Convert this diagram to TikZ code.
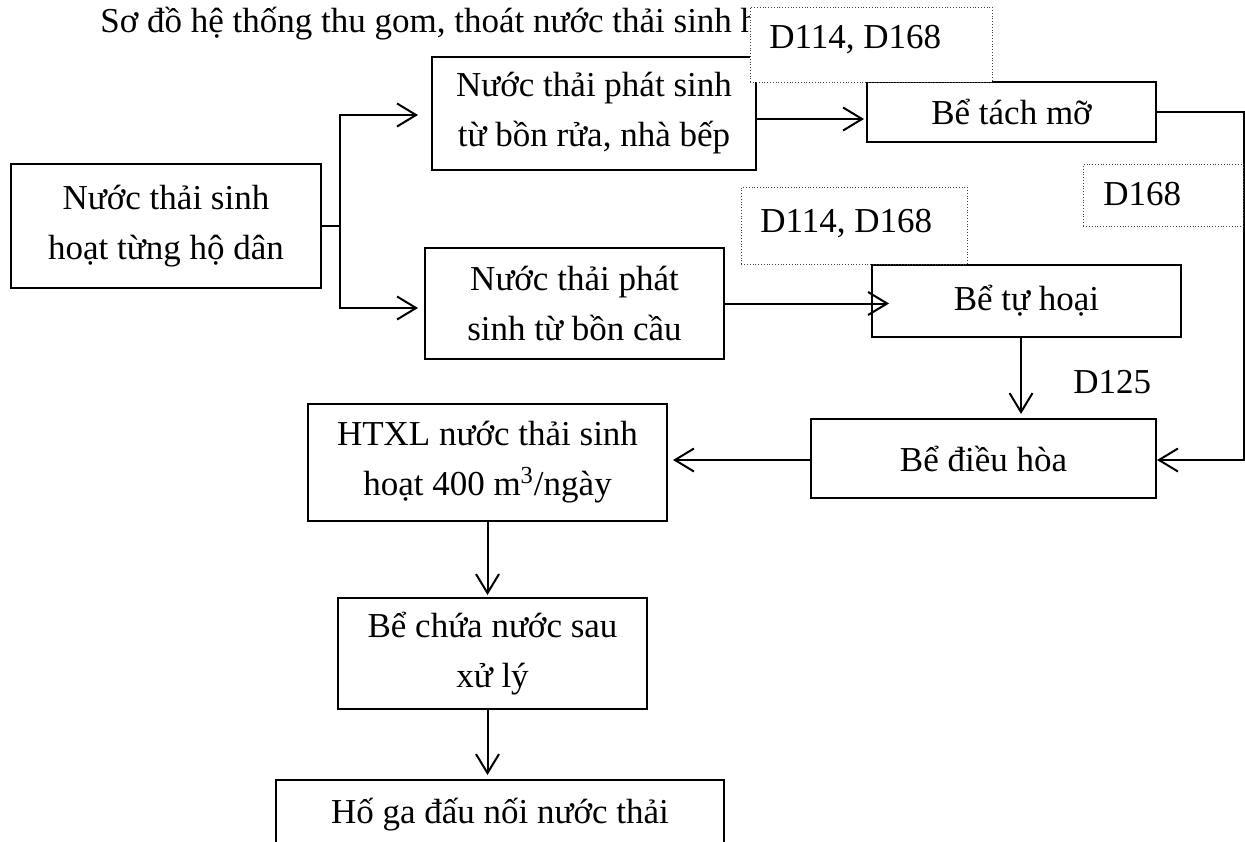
\documentclass[tikz,border=0pt]{standalone}
\usepackage{fontspec}
\setmainfont{Liberation Serif}
\usetikzlibrary{arrows.meta}
\newcommand{\bodyfont}{\fontsize{17.5}{25}\selectfont}
\tikzset{
  box/.style={draw, line width=1pt, align=center, inner sep=0pt, font=\bodyfont},
  pipetag/.style={draw=black!75, densely dotted, line width=0.4pt, fill=white, anchor=north west,
    align=flush left, inner ysep=0pt, font=\bodyfont},
  flow/.style={line width=1pt, -{Straight Barb[length=9.5pt, width=11.5pt, line width=1pt]}}
}

\begin{document}
\begin{tikzpicture}[x=0.5pt, y=-0.5pt]
                \useasboundingbox (0,0) rectangle (1245,841);

                \node[anchor=base west, inner sep=0pt, font=\bodyfont] (title) at (100,32) {Sơ đồ hệ thống thu gom, thoát nước thải sinh h};

                \node[box, minimum width=155pt, minimum height=62pt] (src) at (166,226) {Nước thải sinh\\hoạt từng hộ dân};
                \node[box, minimum width=162pt, minimum height=56.5pt] (kitchen) at (594,113.5) {Nước thải phát sinh\\từ bồn rửa, nhà bếp};
                \node[box, minimum width=144.5pt, minimum height=30pt] (grease) at (1011.5,112) {Bể tách mỡ};
                \node[box, minimum width=149.5pt, minimum height=55.5pt] (toilet) at (574.5,303.5) {Nước thải phát\\sinh từ bồn cầu};
                \node[box, minimum width=154.5pt, minimum height=36pt] (septic) at (1026.5,301) {Bể tự hoại};
                \node[box, minimum width=172.5pt, minimum height=39.5pt] (equal) at (983.5,458.5) {Bể điều hòa};
                \node[box, minimum width=179.5pt, minimum height=58.5pt] (plant) at (487.5,462.5) {HTXL nước thải sinh\\hoạt 400 m\textsuperscript{3}/ngày};
                \node[box, minimum width=154.5pt, minimum height=55.5pt] (store) at (492.5,653.5) {Bể chứa nước sau\\xử lý};
                \node[box, anchor=north, minimum width=224pt, text height=21.5pt, text depth=30pt] (sump) at (500,779) {Hố ga đấu nối nước thải};

                \coordinate (fork) at (340,226);
                \draw[line width=1pt] (src.east) -- (fork);
                \draw[flow, shorten >=6.5pt] (fork) |- ([yshift=-0.75pt]kitchen.west);
                \draw[flow, shorten >=3pt] (fork) |- ([yshift=-2.25pt]toilet.west);

                \draw[flow, shorten >=1pt] ([yshift=-2.75pt]kitchen.east) -- ([yshift=-2.75pt]kitchen.east -| grease.west);
                \draw[flow] (grease.east) -- ++(87,0) |- ([yshift=-0.75pt]equal.east);

                \draw[flow, shorten >=-9pt] (toilet.east) -- (toilet.east -| septic.west);
                \draw[flow, shorten >=2pt] ([xshift=-2.75pt]septic.south) -- ([xshift=-2.75pt]septic.south |- equal.north);

                \draw[flow, shorten >=2.5pt] ([yshift=-0.75pt]equal.west) -- ([yshift=-0.75pt]equal.west -| plant.east);
                \draw[flow, shorten >=1pt] (plant.south) -- (plant.south |- store.north);
                \draw[flow, shorten >=2pt] ([xshift=-2.5pt]store.south) -- ([xshift=-2.5pt]store.south |- sump.north);

                \node[anchor=base west, inner sep=0pt, font=\bodyfont] (d125) at (1073,393) {D125};

                \node[pipetag, inner xsep=9.5pt, text width=102pt, text height=20.5pt, text depth=17pt] (tag1) at (750,7) {D114, D168};
                \node[pipetag, inner xsep=10pt, text width=60pt, text height=20.5pt, text depth=10.5pt] (tag2) at (1083,164) {D168};
                \node[pipetag, inner xsep=9.5pt, text width=94pt, text height=22.5pt, text depth=16pt] (tag3) at (741,187) {D114, D168};
            \end{tikzpicture}
\end{document}
